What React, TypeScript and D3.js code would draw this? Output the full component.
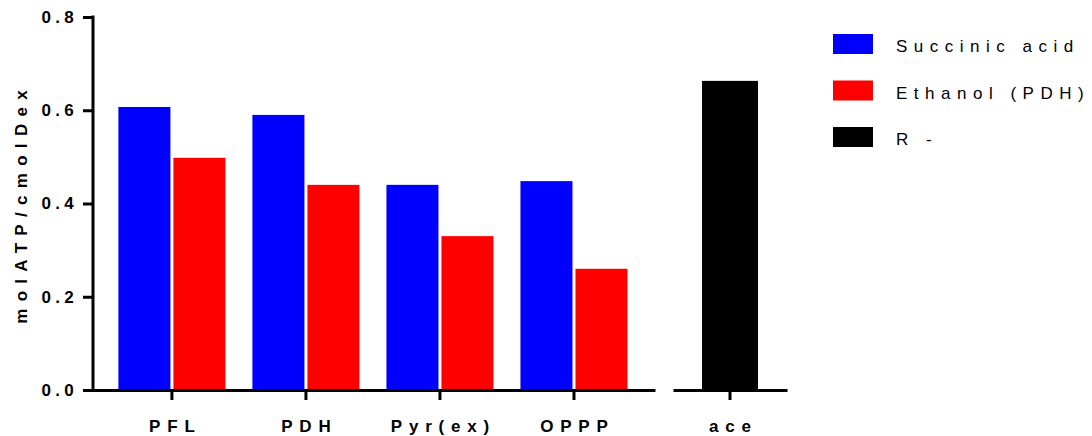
import React, { useEffect, useRef } from "react";
import * as d3 from "d3";

const categories = ["PFL", "PDH", "Pyr(ex)", "OPPP"];
const seriesNames = ["Succinic acid", "Ethanol (PDH)"];
const succinic = [0.607, 0.59, 0.44, 0.448];
const ethanol = [0.498, 0.44, 0.33, 0.26];
const extraCategory = ["ace"];
const rMinus = [0.663];
const yTicks = [0, 0.2, 0.4, 0.6, 0.8];
const legendNames = ["Succinic acid", "Ethanol (PDH)", "R -"];
const colors = ["#0000ff", "#ff0000", "#000000"];

const FONT = "'Liberation Sans', Arial, Helvetica, sans-serif";

export default function App() {
  const ref = useRef<SVGSVGElement>(null);

  useEffect(() => {
    const svg = d3.select(ref.current);
    svg.selectAll("*").remove();

    const y = d3.scaleLinear().domain([0, 0.8]).range([390, 17]);
    const x0 = d3.scaleBand().domain(categories).range([83, 655]).paddingInner(0).paddingOuter(0.134).align(0.61);
    const x1 = d3.scaleBand().domain(seriesNames).range([0, x0.bandwidth()]).paddingInner(0.0545).paddingOuter(0.245);
    const xAce = d3.scaleBand().domain(extraCategory).range([673, 787]).paddingInner(0).paddingOuter(0.518);

    // bars
    const rows = categories.map((c, i) => ({ c, vals: [succinic[i], ethanol[i]] }));
    const groups = svg.append("g").selectAll("g").data(rows).join("g")
      .attr("transform", (d) => `translate(${x0(d.c)},0)`);
    groups.selectAll("rect").data((d) => d.vals.map((v, j) => ({ v, s: seriesNames[j], j }))).join("rect")
      .attr("x", (d) => x1(d.s)!)
      .attr("y", (d) => y(d.v))
      .attr("width", x1.bandwidth())
      .attr("height", (d) => y(0) - y(d.v))
      .attr("fill", (d) => colors[d.j]);

    svg.append("g").selectAll("rect").data(rMinus).join("rect")
      .attr("x", (d, i) => xAce(extraCategory[i])!)
      .attr("y", (d) => y(d))
      .attr("width", xAce.bandwidth())
      .attr("height", (d) => y(0) - y(d))
      .attr("fill", colors[2]);

    // y axis
    const yAxis = svg.append("g").attr("transform", "translate(93,0)")
      .call(d3.axisLeft(y).tickValues(yTicks).tickFormat(d3.format(".1f")).tickSize(10).tickSizeOuter(0).tickPadding(5));
    yAxis.select(".domain").attr("stroke-width", 3).attr("d", "M0,15.5V391.5");
    yAxis.selectAll(".tick line").attr("stroke-width", 3);
    yAxis.selectAll("text").attr("font-family", FONT).attr("font-size", 17).attr("font-weight", "bold")
      .attr("letter-spacing", "4.3px").attr("fill", "#000");

    // x axes (broken)
    const styleX = (g: any) => {
      g.select(".domain").attr("stroke-width", 3);
      g.selectAll(".tick line").attr("stroke-width", 3);
      g.selectAll("text").attr("font-family", FONT).attr("font-size", 17).attr("font-weight", "bold")
        .attr("letter-spacing", "6.8px").attr("dx", "3.4px").attr("fill", "#000");
    };
    svg.append("g").attr("transform", "translate(0,390)")
      .call(d3.axisBottom(x0).tickSize(10).tickSizeOuter(0).tickPadding(20)).call(styleX);
    svg.append("g").attr("transform", "translate(0,390)")
      .call(d3.axisBottom(xAce).tickSize(10).tickSizeOuter(0).tickPadding(20)).call(styleX);

    // y title
    svg.append("text")
      .attr("transform", "translate(27,207) rotate(-90)")
      .attr("text-anchor", "middle")
      .attr("dx", "3.6px")
      .attr("font-family", FONT).attr("font-size", 17).attr("font-weight", "bold")
      .attr("letter-spacing", "7.3px")
      .text("molATP/cmolDex");

    // legend
    const legend = svg.append("g").selectAll("g").data(legendNames).join("g")
      .attr("transform", (d, i) => `translate(833,${34 + i * 46.5})`);
    legend.append("rect").attr("width", 40).attr("height", 20).attr("fill", (d, i) => colors[i]);
    legend.append("text").attr("x", 63).attr("y", 18)
      .attr("font-family", FONT).attr("font-size", 17)
      .attr("letter-spacing", "6.5px").attr("fill", "#000")
      .text((d) => d);
  }, []);

  return (
    <svg ref={ref} width={1092} height={436}
      style={{ position: "absolute", left: 0, top: 0, background: "#fff" }} />
  );
}
